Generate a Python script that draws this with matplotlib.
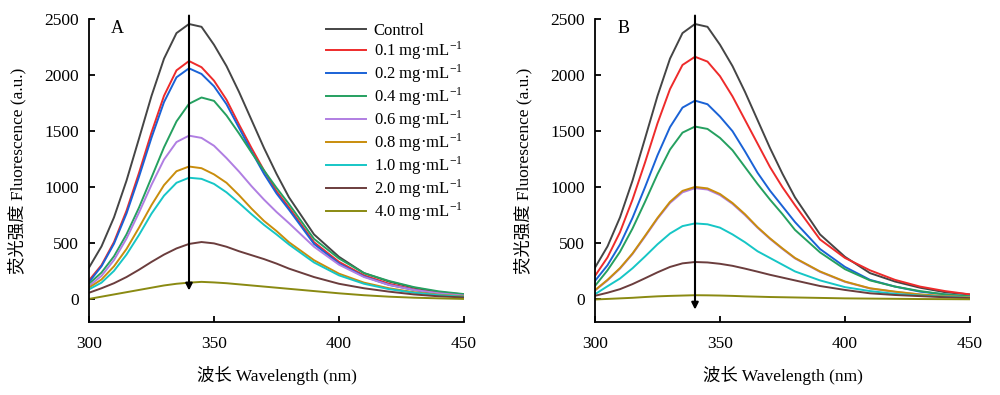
#Fluorescence emission spectra, two panels (A, B)

import matplotlib
matplotlib.use('Agg')
import matplotlib.pyplot as plt

#wavelength grid (nm)
wl = [300, 305, 310, 315, 320, 325, 330, 335, 340, 345, 350, 355, 360,
      365, 370, 375, 380, 390, 400, 410, 420, 430, 440, 450]

#control (same in both panels)
control = [284, 473, 732, 1059, 1434, 1814, 2146, 2374, 2455, 2430, 2270, 2080, 1850,
           1600, 1350, 1120, 910, 580, 380, 235, 160, 105, 65, 45]

#panel A
a_01 = [170, 306, 512, 791, 1128, 1488, 1815, 2042, 2125, 2070, 1950, 1780, 1560,
        1350, 1150, 965, 820, 510, 335, 215, 140, 90, 55, 35]
a_02 = [155, 296, 497, 766, 1094, 1442, 1759, 1980, 2060, 2010, 1900, 1740, 1530,
        1320, 1120, 945, 800, 495, 320, 205, 130, 85, 50, 32]
a_04 = [140, 240, 385, 580, 819, 1087, 1356, 1587, 1744, 1800, 1770, 1640, 1480,
        1310, 1150, 995, 850, 540, 365, 235, 165, 110, 72, 48]
a_06 = [120, 210, 352, 543, 775, 1022, 1247, 1403, 1460, 1440, 1370, 1260, 1140,
        1010, 890, 780, 680, 470, 310, 200, 130, 85, 55, 35]
a_08 = [105, 178, 296, 450, 640, 841, 1019, 1143, 1185, 1170, 1115, 1040, 930,
        810, 700, 610, 510, 350, 230, 150, 100, 65, 42, 28]
a_10 = [90, 150, 255, 400, 575, 765, 925, 1040, 1085, 1075, 1030, 955, 860,
        760, 665, 580, 490, 330, 215, 140, 92, 60, 38, 24]
a_20 = [60, 100, 145, 200, 265, 335, 400, 455, 495, 512, 500, 470, 430,
        395, 360, 320, 275, 200, 140, 100, 70, 45, 28, 18]
a_40 = [5, 25, 45, 65, 85, 105, 125, 140, 150, 157, 152, 145, 135,
        125, 115, 105, 95, 75, 55, 38, 25, 16, 10, 5]

#panel B
b_01 = [210, 375, 600, 890, 1220, 1570, 1875, 2090, 2163, 2120, 1990, 1810, 1600,
        1390, 1180, 1000, 840, 535, 370, 260, 175, 115, 75, 45]
b_02 = [166, 305, 490, 727, 1000, 1285, 1536, 1710, 1772, 1740, 1630, 1500, 1320,
        1130, 970, 830, 690, 450, 290, 175, 115, 70, 45, 28]
b_04 = [121, 260, 425, 632, 870, 1117, 1336, 1487, 1541, 1520, 1440, 1330, 1180,
        1030, 890, 760, 620, 420, 270, 170, 115, 75, 45, 28]
b_06 = [80, 170, 275, 405, 560, 720, 860, 955, 992, 980, 930, 852, 752,
        640, 540, 450, 366, 246, 157, 98, 68, 44, 29, 19]
b_08 = [83, 175, 280, 410, 567, 727, 870, 968, 1003, 990, 940, 860, 760,
        645, 545, 455, 370, 250, 160, 100, 70, 45, 30, 20]
b_10 = [47, 118, 187, 278, 383, 492, 588, 654, 678, 670, 640, 580, 510,
        430, 370, 310, 250, 170, 110, 75, 50, 35, 25, 15]
b_20 = [33, 60, 92, 137, 189, 242, 290, 322, 334, 330, 318, 300, 275,
        248, 220, 195, 170, 120, 85, 55, 40, 30, 20, 12]
b_40 = [0, 5, 10, 15, 22, 28, 32, 35, 38, 37, 35, 32, 28,
        25, 22, 20, 18, 14, 10, 8, 6, 4, 3, 2]

labels = ['Control', r'0.1 mg·mL$^{\mathregular{-1}}$', r'0.2 mg·mL$^{\mathregular{-1}}$',
          r'0.4 mg·mL$^{\mathregular{-1}}$', r'0.6 mg·mL$^{\mathregular{-1}}$',
          r'0.8 mg·mL$^{\mathregular{-1}}$', r'1.0 mg·mL$^{\mathregular{-1}}$',
          r'2.0 mg·mL$^{\mathregular{-1}}$', r'4.0 mg·mL$^{\mathregular{-1}}$']
colors = ['#454545', '#ee2b2b', '#1a62d6', '#25a060', '#b07ee2',
          '#c98d0c', '#16c6c6', '#6b3d3d', '#8a8a12']

panelA = [control, a_01, a_02, a_04, a_06, a_08, a_10, a_20, a_40]
panelB = [control, b_01, b_02, b_04, b_06, b_08, b_10, b_20, b_40]

plt.rcParams['font.family'] = ['Liberation Serif', 'Noto Sans CJK SC']
plt.rcParams['mathtext.fontset'] = 'stix'
plt.rcParams['font.size'] = 12

fig = plt.figure(figsize=(10, 3.95), dpi=100)
axA = fig.add_axes([0.089, 0.185, 0.375, 0.767])
axB = fig.add_axes([0.595, 0.185, 0.375, 0.767])

arrows = {'A': (2530, 80), 'B': (2530, -90)}

for ax, data, tag in [(axA, panelA, 'A'), (axB, panelB, 'B')]:
    for ys, c, lab in zip(data, colors, labels):
        ax.plot(wl, ys, color=c, lw=1.4, label=lab)
    ax.set_xlim(300, 450)
    ax.set_ylim(-200, 2500)
    ax.set_xticks([300, 350, 400, 450])
    ax.set_yticks([0, 500, 1000, 1500, 2000, 2500])
    ax.spines['top'].set_visible(False)
    ax.spines['right'].set_visible(False)
    ax.spines['left'].set_linewidth(1.3)
    ax.spines['bottom'].set_linewidth(1.3)
    ax.tick_params(direction='in', length=4.5, width=1.3, labelsize=12.5)
    ax.tick_params(axis='x', pad=10)
    ax.tick_params(axis='y', pad=7)
    ax.set_xlabel('波长 Wavelength (nm)', fontsize=12.5, labelpad=10)
    ax.set_ylabel('荧光强度 Fluorescence (a.u.)', fontsize=12.5, labelpad=13)
    ax.text(0.075, 0.97, tag, transform=ax.transAxes, fontsize=13,
            ha='center', va='center')
    top, bot = arrows[tag]
    ax.annotate('', xy=(340, bot), xytext=(340, top),
                arrowprops=dict(arrowstyle='-|>', color='black', lw=1.5,
                                mutation_scale=10, shrinkA=0, shrinkB=0),
                annotation_clip=False)

axA.legend(loc='upper left', bbox_to_anchor=(0.632, 0.987), frameon=False,
           fontsize=12, borderpad=0, borderaxespad=0, handlelength=2.4,
           handletextpad=0.45, labelspacing=0.02)

fig.savefig('out.png', dpi=100)
